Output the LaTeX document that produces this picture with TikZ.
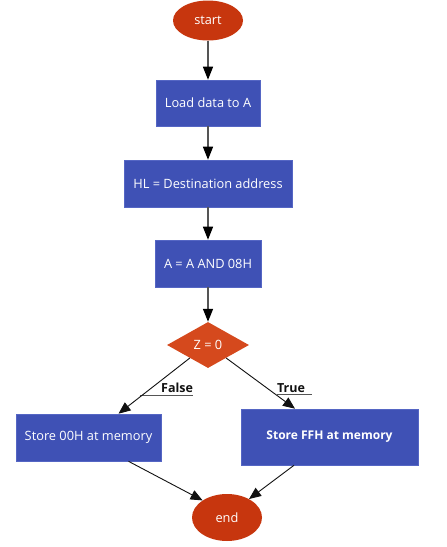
\documentclass[tikz,border=0pt]{standalone}
\usepackage{fontspec}
\setmainfont{Open Sans}
\usetikzlibrary{shapes.geometric,arrows.meta,calc}
\definecolor{paper}{HTML}{FFFFFF}
\definecolor{stepBlue}{HTML}{3F51B5}
\definecolor{stepEdge}{HTML}{5566C4}
\definecolor{termRed}{HTML}{C7360E}
\definecolor{testOrange}{HTML}{D5491D}
\definecolor{lineGrey}{HTML}{555555}
\definecolor{ink}{HTML}{111111}

\begin{document}
\begin{tikzpicture}[x=1pt, y=-1pt, font=\fontsize{12.8}{15}\selectfont,
    stepbox/.style={rectangle, draw=stepEdge, fill=stepBlue, text=white, line width=0.6pt, align=center},
    term/.style={ellipse, fill=termRed, text=white, minimum width=70pt, minimum height=40pt, inner sep=0pt},
    test/.style={diamond, fill=testOrange, text=white, minimum width=82pt, minimum height=46pt, aspect=1.78, inner sep=0pt},
    tag/.style={font=\fontsize{12.5}{15}\selectfont\bfseries, text=ink, inner xsep=0pt, inner ysep=2pt},
    flow/.style={-{Triangle[length=13pt,width=10pt,color=black]}, line width=1.3pt, draw=lineGrey},
    branch/.style={-{Triangle[length=12pt,width=10pt]}, line width=0.9pt, draw=ink}]
  % canvas (same size as the reference)
  \useasboundingbox[fill=paper] (0,0) rectangle (447,547);

  % ---------------- main column
  \node[term] (start) at (208,20.5) {start};
  \node[stepbox, minimum width=104pt, minimum height=46pt] (load) at (208,103) {Load data to A};
  \node[stepbox, minimum width=168pt, minimum height=47pt] (dest) at (208,183.5) {HL = Destination address};
  \node[stepbox, minimum width=106pt, minimum height=47pt] (mask) at (208,263.5) {A = A AND 08H};
  \node[test] (zero) at (208,345) {Z = 0};

  % ---------------- the two branches
  \node[stepbox, minimum width=145pt, minimum height=47pt] (st0) at (88.5,437.5) {Store 00H at memory};
  \node[stepbox, minimum width=177pt, minimum height=56pt, font=\fontsize{12}{14}\selectfont\bfseries] (stF) at (329.5,437) {Store FFH at memory};
  \node[term, minimum height=47pt] (end) at (227,517.5) {end};

  % ---------------- branch labels with their rule
  \node[tag, text width=53pt, align=right] (lf) at (166.5,388) {False\hspace{5pt}};
  \node[tag, text width=35pt, align=left] (lt) at (294.5,388) {True};
  \draw[lineGrey, line width=0.9pt] (lf.south west) -- (lf.south east);
  \draw[lineGrey, line width=0.9pt] (lt.south west) -- (lt.south east);

  % ---------------- flow arrows
  \draw[flow] (start) -- (load);
  \draw[flow] (load) -- (dest);
  \draw[flow] (dest) -- (mask);
  \draw[flow] (mask) -- (zero);
  \draw[branch] ($(zero.west)!0.56!(zero.south)$) -- ($(st0.north)+(30,0)$);
  \draw[branch] ($(zero.east)!0.56!(zero.south)$) -- ($(stF.north)+(-34.5,0)$);
  \draw[branch] ($(st0.south)+(40,0)$) -- (end.145);
  \draw[branch] ($(stF.south)+(-35.5,0)$) -- (end.40);
\end{tikzpicture}
\end{document}
